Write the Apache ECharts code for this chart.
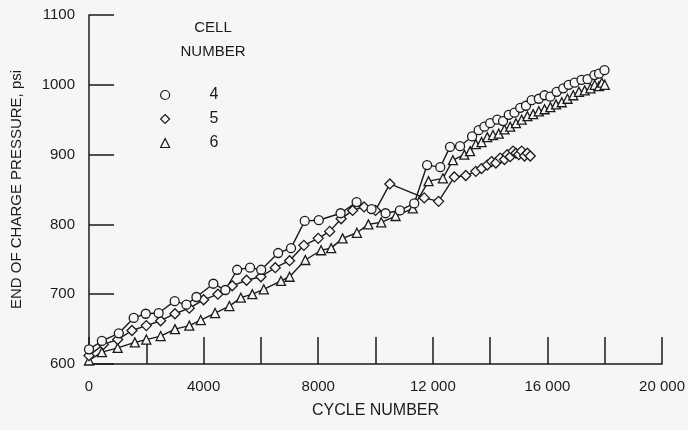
<!DOCTYPE html>
<html>
<head>
<meta charset="utf-8">
<script src="https://cdn.jsdelivr.net/npm/echarts@6/dist/echarts.min.js"></script>
<style>
  html, body { margin: 0; padding: 0; background: #f6f6f4; }
  #chart { width: 688px; height: 430px; }
</style>
</head>
<body>
<div id="chart"></div>
<script>
// End-of-charge pressure versus cycle number for cells 4, 5 and 6
const cellNames = ['4', '5', '6'];

const cell4Cycles = [0, 450, 1040, 1560, 1980, 2430, 2990, 3400, 3750, 4340, 4760, 5170, 5620, 6010, 6600, 7050, 7530, 8020, 8780, 9340, 9860, 10350, 10850, 11350, 11800, 12260, 12600, 12950, 13370, 13600, 13800, 14000, 14250, 14450, 14650, 14850, 15050, 15250, 15450, 15700, 15900, 16100, 16320, 16550, 16740, 16950, 17190, 17400, 17640, 17800, 17990];
const cell4Psi    = [621, 633, 644, 666, 672, 673, 690, 685, 696, 715, 706, 735, 738, 735, 759, 766, 805, 806, 816, 832, 822, 816, 820, 830, 885, 882, 911, 912, 926, 935, 940, 945, 950, 948, 957, 960, 967, 970, 978, 980, 985, 983, 990, 995, 1000, 1003, 1007, 1008, 1014, 1016, 1021];

const cell5Cycles = [0, 500, 1000, 1500, 2000, 2500, 3000, 3500, 4000, 4500, 5000, 5500, 6000, 6500, 7000, 7500, 8000, 8400, 8800, 9200, 9600, 10000, 10500, 11700, 12200, 12750, 13150, 13500, 13700, 13900, 14050, 14200, 14350, 14500, 14600, 14700, 14800, 14900, 15000, 15100, 15200, 15300, 15400];
const cell5Psi    = [612, 628, 635, 648, 655, 662, 672, 680, 692, 700, 712, 720, 725, 738, 748, 770, 780, 790, 808, 820, 825, 820, 858, 838, 833, 868, 870, 876, 880, 885, 890, 888, 895, 893, 900, 897, 905, 902, 900, 905, 898, 902, 898];

const cell6Cycles = [0, 450, 1000, 1600, 2000, 2500, 3000, 3500, 3900, 4400, 4900, 5300, 5700, 6100, 6700, 7000, 7550, 8100, 8450, 8850, 9350, 9750, 10200, 10700, 11300, 11850, 12350, 12700, 13100, 13300, 13500, 13700, 13900, 14100, 14300, 14500, 14700, 14900, 15100, 15300, 15500, 15700, 15900, 16100, 16300, 16500, 16700, 16900, 17100, 17300, 17500, 17650, 17800, 17900, 18000];
const cell6Psi    = [605, 617, 623, 631, 635, 640, 650, 655, 663, 673, 683, 695, 700, 707, 719, 725, 749, 763, 766, 780, 788, 800, 803, 812, 823, 862, 866, 892, 900, 905, 915, 918, 925, 928, 930, 936, 940, 945, 950, 955, 958, 962, 965, 968, 972, 975, 980, 985, 990, 992, 995, 1000, 998, 1003, 1000];

const BG = '#f6f6f4';
const INK = '#1b1b1b';
const FONT = '"Liberation Sans", Arial, sans-serif';

function pairs(xs, ys) {
  return xs.map((x, i) => [x, ys[i]]);
}

function cellSeries(name, symbol, size, xs, ys) {
  return {
    name: name,
    type: 'line',
    data: pairs(xs, ys),
    symbol: symbol,
    symbolSize: size,
    showAllSymbol: true,
    animation: false,
    lineStyle: { color: INK, width: 1.4 },
    itemStyle: { color: BG, borderColor: INK, borderWidth: 1.3 }
  };
}

// Cycle labels every 4000, with a gap before the last three digits of five-digit values
function cycleLabel(v) {
  if (v % 4000 !== 0) return '';
  if (v >= 10000) {
    const s = String(v);
    return s.slice(0, s.length - 3) + ' ' + s.slice(-3);
  }
  return String(v);
}

const chart = echarts.init(document.getElementById('chart'), null, { renderer: 'canvas' });

chart.setOption({
  backgroundColor: BG,
  animation: false,
  textStyle: { fontFamily: FONT, color: INK },
  grid: { left: 89, top: 15, right: 22, bottom: 66 },
  graphic: [
    { type: 'text', x: 213, y: 20, style: { text: 'CELL', font: '15px ' + FONT, fill: INK, textAlign: 'center' } },
    { type: 'text', x: 213, y: 44, style: { text: 'NUMBER', font: '15px ' + FONT, fill: INK, textAlign: 'center' } }
  ],
  legend: {
    orient: 'vertical',
    left: 155,
    top: 82,
    itemWidth: 9,
    itemHeight: 9,
    itemGap: 8,
    data: [
      { name: cellNames[0], icon: 'circle' },
      { name: cellNames[1], icon: 'diamond' },
      { name: cellNames[2], icon: 'triangle' }
    ],
    itemStyle: { color: BG, borderColor: INK, borderWidth: 1.2 },
    textStyle: { fontFamily: FONT, fontSize: 16, color: INK, padding: [0, 0, 0, 35] },
    selectedMode: false
  },
  xAxis: {
    type: 'value',
    min: 0,
    max: 20000,
    interval: 2000,
    name: 'CYCLE NUMBER',
    nameLocation: 'middle',
    nameGap: 39,
    nameTextStyle: { fontFamily: FONT, fontSize: 16, color: INK },
    axisLine: { lineStyle: { color: INK, width: 1.5 } },
    axisTick: { inside: true, length: 27, lineStyle: { color: INK, width: 1.5 } },
    axisLabel: { formatter: cycleLabel, fontFamily: FONT, fontSize: 15, color: INK, margin: 15, showMaxLabel: true },
    splitLine: { show: false }
  },
  yAxis: {
    type: 'value',
    min: 600,
    max: 1100,
    interval: 100,
    name: 'END OF CHARGE PRESSURE, psi',
    nameLocation: 'middle',
    nameGap: 65,
    nameTextStyle: { fontFamily: FONT, fontSize: 15, color: INK },
    axisLine: { show: true, lineStyle: { color: INK, width: 1.5 } },
    axisTick: { show: true, inside: true, length: 25, lineStyle: { color: INK, width: 1.5 } },
    axisLabel: { formatter: (v) => String(v), fontFamily: FONT, fontSize: 15, color: INK, margin: 14 },
    splitLine: { show: false }
  },
  series: [
    cellSeries(cellNames[2], 'triangle', 9, cell6Cycles, cell6Psi),
    cellSeries(cellNames[1], 'diamond', 10, cell5Cycles, cell5Psi),
    cellSeries(cellNames[0], 'circle', 9, cell4Cycles, cell4Psi)
  ]
});
</script>
</body>
</html>
